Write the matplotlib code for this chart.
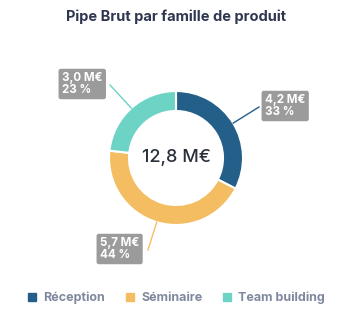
import matplotlib
matplotlib.use("Agg")
import matplotlib.pyplot as plt
from matplotlib.lines import Line2D
import numpy as np

categories = ["Réception", "Séminaire", "Team building"]
values = [4.2, 5.7, 3.0]
value_labels = ["4,2 M€", "5,7 M€", "3,0 M€"]
pct_labels = ["33 %", "44 %", "23 %"]
total_label = "12,8 M€"
title = "Pipe Brut par famille de produit"
colors = ["#245F8A", "#F5BD62", "#6CD3C5"]

plt.rcParams['font.family'] = ['Inter', 'DejaVu Sans']

W, H = 352, 312
fig = plt.figure(figsize=(W / 100, H / 100), dpi=100)
ax = fig.add_axes([0, 0, 1, 1])
ax.set_xlim(0, W)
ax.set_ylim(0, H)
ax.set_aspect('equal')
ax.axis('off')

cx, cy, R = 176, 154, 67
wedges, _ = ax.pie(values, colors=colors, startangle=90, counterclock=False,
                   center=(cx, cy), radius=R,
                   wedgeprops=dict(width=20, edgecolor='white', linewidth=1.5))
ax.set_xlim(0, W)
ax.set_ylim(0, H)

ax.text(cx, cy, total_label, ha='center', va='center', fontsize=13,
        color='#2B2F3A', fontweight='medium')

fig.text(0.5, 1 - 17 / H, title, ha='center', va='center', fontsize=10.5,
         fontweight='bold', color='#2E3650')

# label box positions (text anchor, left-aligned) and line ends
box_pos = [(265, H - 106), (100, H - 249), (62, H - 84)]
line_end = [(259, H - 107), (148, H - 250), (110, H - 85)]
for w, vl, pl, bp, le, c in zip(wedges, value_labels, pct_labels, box_pos, line_end, colors):
    ang = np.deg2rad((w.theta1 + w.theta2) / 2)
    px, py = cx + R * np.cos(ang), cy + R * np.sin(ang)
    ax.plot([px, le[0]], [py, le[1]], color=c, lw=1)
    ax.text(bp[0], bp[1], vl + "\n" + pl, ha='left', va='center', fontsize=8.3,
            fontweight='bold', color='white', linespacing=0.95,
            bbox=dict(boxstyle='round,pad=0.3,rounding_size=0.2', fc='#9B9B9B', ec='none'))

handles = [Line2D([0], [0], marker='s', linestyle='none', markersize=5.5,
                  markerfacecolor=c, markeredgecolor=c) for c in colors]
fig.legend(handles, categories, loc='center', bbox_to_anchor=(0.5, 1 - 298 / H),
           ncol=3, frameon=False, labelcolor='#7F889E',
           prop=dict(weight='bold', size=9), handletextpad=0.5, columnspacing=1.6,
           handlelength=0.8)

fig.savefig("out.png", dpi=100)
